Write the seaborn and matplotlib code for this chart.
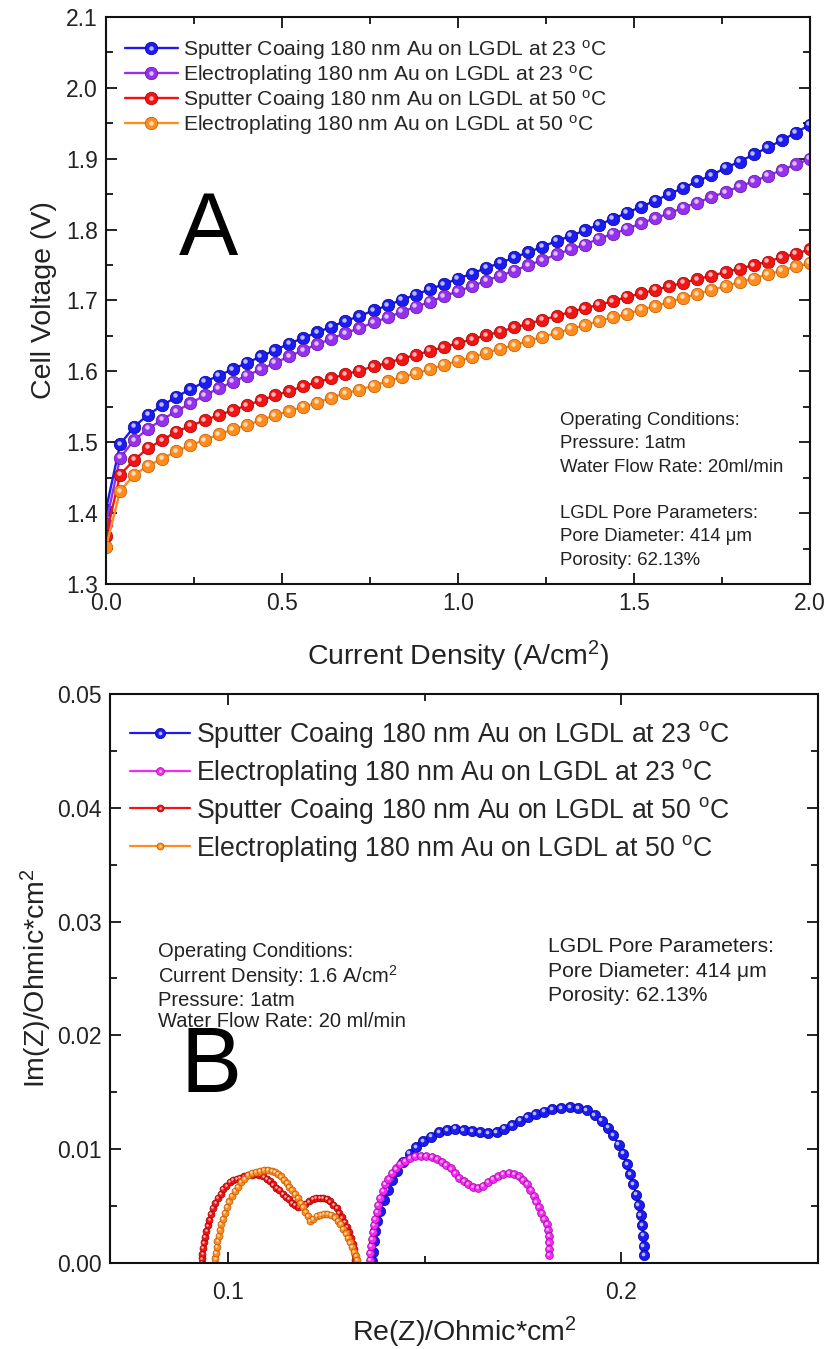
import matplotlib
matplotlib.use("Agg")
import matplotlib.pyplot as plt
from matplotlib.lines import Line2D
from matplotlib.legend_handler import HandlerTuple
from matplotlib.ticker import MultipleLocator, FormatStrFormatter
from matplotlib.transforms import offset_copy
import seaborn as sns

sns.set_theme(style="ticks")
plt.rcParams["font.family"] = ["Liberation Sans", "DejaVu Sans"]
plt.rcParams["mathtext.fontset"] = "custom"
plt.rcParams["mathtext.rm"] = "Liberation Sans"
plt.rcParams["mathtext.it"] = "Liberation Sans:italic"
plt.rcParams["mathtext.bf"] = "Liberation Sans:bold"

# ---------------- polarization curves (panel A) ----------------
current_density = [0.00, 0.04, 0.08, 0.12, 0.16, 0.20, 0.24, 0.28, 0.32, 0.36,
                   0.40, 0.44, 0.48, 0.52, 0.56, 0.60, 0.64, 0.68, 0.72, 0.76,
                   0.80, 0.84, 0.88, 0.92, 0.96, 1.00, 1.04, 1.08, 1.12, 1.16,
                   1.20, 1.24, 1.28, 1.32, 1.36, 1.40, 1.44, 1.48, 1.52, 1.56,
                   1.60, 1.64, 1.68, 1.72, 1.76, 1.80, 1.84, 1.88, 1.92, 1.96,
                   2.00]

v_sputter_23 = [1.405, 1.497, 1.522, 1.539, 1.552, 1.564, 1.575, 1.585, 1.594, 1.603,
                1.612, 1.621, 1.630, 1.639, 1.647, 1.655, 1.663, 1.671, 1.678, 1.686,
                1.693, 1.701, 1.708, 1.716, 1.723, 1.731, 1.738, 1.746, 1.753, 1.761,
                1.768, 1.776, 1.784, 1.791, 1.799, 1.807, 1.815, 1.824, 1.832, 1.841,
                1.850, 1.859, 1.868, 1.877, 1.887, 1.896, 1.906, 1.916, 1.926, 1.937,
                1.948]

v_plating_23 = [1.385, 1.478, 1.503, 1.519, 1.532, 1.544, 1.555, 1.566, 1.576, 1.585,
                1.594, 1.603, 1.612, 1.621, 1.630, 1.638, 1.646, 1.654, 1.661, 1.669,
                1.676, 1.684, 1.691, 1.698, 1.706, 1.713, 1.720, 1.728, 1.735, 1.742,
                1.750, 1.757, 1.765, 1.772, 1.779, 1.787, 1.794, 1.801, 1.809, 1.816,
                1.823, 1.831, 1.838, 1.846, 1.853, 1.861, 1.868, 1.876, 1.884, 1.892,
                1.900]

v_sputter_50 = [1.368, 1.454, 1.475, 1.492, 1.503, 1.515, 1.523, 1.531, 1.538, 1.545,
                1.552, 1.559, 1.566, 1.572, 1.579, 1.585, 1.590, 1.596, 1.601, 1.607,
                1.612, 1.618, 1.623, 1.629, 1.634, 1.640, 1.645, 1.651, 1.656, 1.662,
                1.667, 1.673, 1.678, 1.684, 1.689, 1.694, 1.699, 1.705, 1.710, 1.715,
                1.720, 1.725, 1.730, 1.735, 1.740, 1.745, 1.750, 1.755, 1.761, 1.766,
                1.772]

v_plating_50 = [1.352, 1.431, 1.454, 1.467, 1.477, 1.487, 1.496, 1.503, 1.511, 1.518,
                1.524, 1.531, 1.538, 1.544, 1.550, 1.556, 1.563, 1.569, 1.574, 1.580,
                1.586, 1.592, 1.597, 1.603, 1.609, 1.615, 1.620, 1.626, 1.632, 1.637,
                1.643, 1.649, 1.654, 1.660, 1.665, 1.671, 1.676, 1.681, 1.687, 1.692,
                1.698, 1.704, 1.709, 1.715, 1.720, 1.726, 1.731, 1.737, 1.742, 1.748,
                1.753]

# ---------------- impedance spectra (panel B) ----------------
re_sputter_23 = [0.1366, 0.1368, 0.1370, 0.1374, 0.1380, 0.1387, 0.1396, 0.1406, 0.1418, 0.1431,
                 0.1446, 0.1462, 0.1479, 0.1497, 0.1516, 0.1536, 0.1557, 0.1578, 0.1599, 0.1620,
                 0.1641, 0.1662, 0.1683, 0.1703, 0.1723, 0.1742, 0.1762, 0.1782, 0.1803, 0.1825,
                 0.1847, 0.1869, 0.1891, 0.1912, 0.1932, 0.1950, 0.1966, 0.1980, 0.1993, 0.2004,
                 0.2014, 0.2023, 0.2031, 0.2038, 0.2044, 0.2049, 0.2053, 0.2056, 0.2057, 0.2058]
im_sputter_23 = [0.0002, 0.0010, 0.0019, 0.0028, 0.0037, 0.0046, 0.0055, 0.0064, 0.0073, 0.0081,
                 0.0089, 0.0096, 0.0102, 0.0107, 0.0111, 0.0115, 0.0117, 0.0118, 0.0117, 0.0116,
                 0.0115, 0.0114, 0.0115, 0.0118, 0.0121, 0.0125, 0.0128, 0.0131, 0.0133, 0.0135,
                 0.0136, 0.0137, 0.0136, 0.0134, 0.0130, 0.0125, 0.0119, 0.0112, 0.0104, 0.0096,
                 0.0087, 0.0078, 0.0069, 0.0060, 0.0051, 0.0042, 0.0033, 0.0024, 0.0015, 0.0007]

re_plating_23 = [0.1360, 0.1362, 0.1364, 0.1366, 0.1368, 0.1371, 0.1374, 0.1378, 0.1382, 0.1387,
                 0.1393, 0.1400, 0.1408, 0.1417, 0.1427, 0.1438, 0.1450, 0.1463, 0.1476, 0.1490,
                 0.1504, 0.1518, 0.1531, 0.1543, 0.1555, 0.1566, 0.1577, 0.1588, 0.1599, 0.1611,
                 0.1623, 0.1636, 0.1648, 0.1660, 0.1673, 0.1686, 0.1700, 0.1714, 0.1727, 0.1739,
                 0.1750, 0.1760, 0.1769, 0.1777, 0.1784, 0.1790, 0.1797, 0.1804, 0.1810, 0.1814,
                 0.1816, 0.1817, 0.1817, 0.1817]
im_plating_23 = [0.0003, 0.0009, 0.0015, 0.0021, 0.0027, 0.0033, 0.0039, 0.0045, 0.0051, 0.0057,
                 0.0063, 0.0069, 0.0074, 0.0079, 0.0083, 0.0087, 0.0090, 0.0092, 0.0094, 0.0094,
                 0.0094, 0.0093, 0.0091, 0.0089, 0.0086, 0.0083, 0.0079, 0.0075, 0.0072, 0.0069,
                 0.0067, 0.0066, 0.0068, 0.0071, 0.0074, 0.0076, 0.0078, 0.0079, 0.0078, 0.0076,
                 0.0073, 0.0069, 0.0064, 0.0059, 0.0054, 0.0049, 0.0044, 0.0039, 0.0034, 0.0029,
                 0.0024, 0.0018, 0.0012, 0.0007]

re_sputter_50 = [0.0933, 0.0934, 0.0935, 0.0937, 0.0939, 0.0942, 0.0945, 0.0949, 0.0953, 0.0957,
                 0.0962, 0.0968, 0.0974, 0.0981, 0.0988, 0.0996, 0.1004, 0.1013, 0.1022, 0.1031,
                 0.1040, 0.1050, 0.1060, 0.1070, 0.1080, 0.1090, 0.1099, 0.1107, 0.1115, 0.1123,
                 0.1131, 0.1139, 0.1147, 0.1155, 0.1163, 0.1171, 0.1179, 0.1188, 0.1197, 0.1206,
                 0.1215, 0.1224, 0.1233, 0.1242, 0.1251, 0.1260, 0.1268, 0.1276, 0.1283, 0.1290,
                 0.1296, 0.1302, 0.1308, 0.1313, 0.1317, 0.1320, 0.1322, 0.1324]
im_sputter_50 = [0.0000, 0.0004, 0.0008, 0.0013, 0.0018, 0.0023, 0.0028, 0.0033, 0.0038, 0.0043,
                 0.0048, 0.0053, 0.0057, 0.0061, 0.0065, 0.0068, 0.0071, 0.0073, 0.0074, 0.0075,
                 0.0076, 0.0077, 0.0077, 0.0078, 0.0077, 0.0076, 0.0074, 0.0072, 0.0069, 0.0066,
                 0.0064, 0.0061, 0.0058, 0.0056, 0.0053, 0.0051, 0.0049, 0.0050, 0.0052, 0.0054,
                 0.0056, 0.0057, 0.0057, 0.0057, 0.0056, 0.0054, 0.0051, 0.0048, 0.0044, 0.0040,
                 0.0036, 0.0032, 0.0027, 0.0022, 0.0017, 0.0012, 0.0007, 0.0003]

re_plating_50 = [0.0967, 0.0968, 0.0969, 0.0971, 0.0973, 0.0976, 0.0979, 0.0983, 0.0987, 0.0992,
                 0.0997, 0.1003, 0.1010, 0.1017, 0.1025, 0.1033, 0.1042, 0.1051, 0.1061, 0.1071,
                 0.1081, 0.1091, 0.1101, 0.1111, 0.1120, 0.1128, 0.1135, 0.1142, 0.1149, 0.1156,
                 0.1163, 0.1170, 0.1177, 0.1184, 0.1191, 0.1197, 0.1203, 0.1209, 0.1217, 0.1226,
                 0.1235, 0.1244, 0.1253, 0.1262, 0.1271, 0.1279, 0.1286, 0.1293, 0.1299, 0.1305,
                 0.1311, 0.1316, 0.1321, 0.1325, 0.1328]
im_plating_50 = [0.0000, 0.0004, 0.0009, 0.0014, 0.0019, 0.0024, 0.0029, 0.0034, 0.0039, 0.0044,
                 0.0049, 0.0054, 0.0059, 0.0063, 0.0067, 0.0071, 0.0074, 0.0077, 0.0079, 0.0080,
                 0.0081, 0.0082, 0.0082, 0.0081, 0.0080, 0.0078, 0.0076, 0.0073, 0.0070, 0.0067,
                 0.0064, 0.0061, 0.0057, 0.0053, 0.0049, 0.0045, 0.0041, 0.0037, 0.0039, 0.0041,
                 0.0042, 0.0043, 0.0043, 0.0042, 0.0040, 0.0037, 0.0034, 0.0030, 0.0026, 0.0022,
                 0.0018, 0.0014, 0.0010, 0.0006, 0.0003]

labels = ["Sputter Coaing 180 nm Au on LGDL at 23 $^{\\rm o}$C",
          "Electroplating 180 nm Au on LGDL at 23 $^{\\rm o}$C",
          "Sputter Coaing 180 nm Au on LGDL at 50 $^{\\rm o}$C",
          "Electroplating 180 nm Au on LGDL at 50 $^{\\rm o}$C"]

# (body colour, edge colour)
colors_a = [("#1c1cf2", "#00008c"), ("#9530ee", "#55129a"),
            ("#f21414", "#9a0000"), ("#ff8c1e", "#b85600")]
colors_b = [("#1c1cf2", "#00008c"), ("#f52af5", "#a000a0"),
            ("#f21414", "#9a0000"), ("#ff8c1e", "#b85600")]

fig = plt.figure(figsize=(8.30, 13.49), dpi=100)
ax_a = fig.add_axes([0.1277, 0.5671, 0.8482, 0.4203])
ax_b = fig.add_axes([0.1325, 0.0638, 0.8530, 0.4218])


def ball_series(ax, x, y, body, edge, label, ms, lw):
    sns.lineplot(x=x, y=y, ax=ax, sort=False, estimator=None, color=body,
                 linewidth=lw, marker="o", markersize=ms, markerfacecolor=body,
                 markeredgecolor=edge, markeredgewidth=0.5, label=label)
    shine = offset_copy(ax.transData, fig=fig, x=-ms * 0.12, y=ms * 0.12, units="points")
    ax.plot(x, y, linestyle="none", marker="o", markersize=ms * 0.36,
            markerfacecolor="#ffffff", markeredgewidth=0, alpha=0.7, transform=shine)
    line = Line2D([], [], color=body, linewidth=lw, marker="o", markersize=ms,
                  markerfacecolor=body, markeredgecolor=edge, markeredgewidth=0.5)
    dot = Line2D([], [], linestyle="none", marker="o", markersize=ms * 0.36,
                 markerfacecolor="#ffffff", markeredgewidth=0, alpha=0.7)
    return (line, dot)


# panel A
series_a = [v_sputter_23, v_plating_23, v_sputter_50, v_plating_50]
handles_a = []
for vals, (body, edge), lab in zip(series_a, colors_a, labels):
    handles_a.append(ball_series(ax_a, current_density, vals, body, edge, lab, 9.0, 1.7))

# panel B
series_b = [(re_sputter_23, im_sputter_23, 7.4), (re_plating_23, im_plating_23, 5.6),
            (re_sputter_50, im_sputter_50, 5.0), (re_plating_50, im_plating_50, 5.0)]
handles_b = []
for (xs, ys, ms), (body, edge), lab in zip(series_b, colors_b, labels):
    handles_b.append(ball_series(ax_b, xs, ys, body, edge, lab, ms, 1.6))

# axes styling
for ax in (ax_a, ax_b):
    for sp in ax.spines.values():
        sp.set_linewidth(1.5)
        sp.set_color("#111111")
    ax.tick_params(which="both", direction="in", top=True, right=True,
                   width=1.3, color="#111111", labelcolor="#222222", labelsize=16.5, pad=6)
    ax.tick_params(which="major", length=8)
    ax.tick_params(which="minor", length=5)
    ax.grid(False)
ax_b.tick_params(axis="x", which="both", pad=13)

ax_a.set_xlim(0.0, 2.0)
ax_a.set_ylim(1.3, 2.1)
ax_a.xaxis.set_major_locator(MultipleLocator(0.5))
ax_a.xaxis.set_minor_locator(MultipleLocator(0.25))
ax_a.yaxis.set_major_locator(MultipleLocator(0.1))
ax_a.yaxis.set_minor_locator(MultipleLocator(0.05))
ax_a.xaxis.set_major_formatter(FormatStrFormatter("%.1f"))
ax_a.yaxis.set_major_formatter(FormatStrFormatter("%.1f"))
ax_a.set_xlabel("Current Density (A/cm$^2$)", fontsize=20.5, color="#222222", labelpad=17)
ax_a.set_ylabel("Cell Voltage (V)", fontsize=20.5, color="#222222", labelpad=6)

ax_b.set_xlim(0.07, 0.25)
ax_b.set_ylim(0.0, 0.05)
ax_b.xaxis.set_major_locator(MultipleLocator(0.1))
ax_b.xaxis.set_minor_locator(MultipleLocator(0.05))
ax_b.yaxis.set_major_locator(MultipleLocator(0.01))
ax_b.yaxis.set_minor_locator(MultipleLocator(0.005))
ax_b.xaxis.set_major_formatter(FormatStrFormatter("%.1f"))
ax_b.yaxis.set_major_formatter(FormatStrFormatter("%.2f"))
ax_b.set_xlabel("Re(Z)/Ohmic*cm$^2$", fontsize=20.5, color="#222222", labelpad=8)
ax_b.set_ylabel("Im(Z)/Ohmic*cm$^2$", fontsize=20.5, color="#222222", labelpad=2)

# legends
ax_a.legend(handles_a, labels, handler_map={tuple: HandlerTuple(ndivide=1, pad=0)},
            loc="upper left", bbox_to_anchor=(0.027, 0.963), frameon=False,
            fontsize=15.2, borderpad=0, borderaxespad=0, handlelength=2.5,
            handletextpad=0.25, labelspacing=0.05)
ax_b.legend(handles_b, labels, handler_map={tuple: HandlerTuple(ndivide=1, pad=0)},
            loc="upper left", bbox_to_anchor=(0.028, 0.956), frameon=False,
            fontsize=19.2, borderpad=0, borderaxespad=0, handlelength=2.25,
            handletextpad=0.25, labelspacing=0.26)

# panel letters
ax_a.text(0.103, 0.58, "A", transform=ax_a.transAxes, fontsize=64, color="#000000",
          ha="left", va="baseline")
ax_b.text(0.10, 0.30, "B", transform=ax_b.transAxes, fontsize=66, color="#000000",
          ha="left", va="baseline")

# operating-condition notes
ax_a.text(0.645, 0.303,
          "Operating Conditions:\nPressure: 1atm\nWater Flow Rate: 20ml/min\n\n"
          "LGDL Pore Parameters:\nPore Diameter: 414 \u03bcm\nPorosity: 62.13%",
          transform=ax_a.transAxes, fontsize=13.4, color="#222222",
          ha="left", va="top", linespacing=1.48)
ax_b.text(0.068, 0.564,
          "Operating Conditions:\nCurrent Density: 1.6 A/cm$^2$\nPressure: 1atm\n"
          "Water Flow Rate: 20 ml/min",
          transform=ax_b.transAxes, fontsize=14.5, color="#222222",
          ha="left", va="top", linespacing=1.13)
ax_b.text(0.618, 0.572,
          "LGDL Pore Parameters:\nPore Diameter: 414 \u03bcm\nPorosity: 62.13%",
          transform=ax_b.transAxes, fontsize=15.2, color="#222222",
          ha="left", va="top", linespacing=1.35)

fig.savefig("out.png", dpi=100)
